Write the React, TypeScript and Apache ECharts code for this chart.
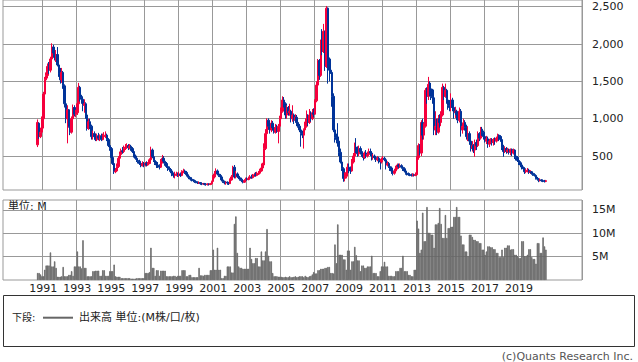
import React, { useEffect, useRef } from 'react';
import * as echarts from 'echarts';

// ---- axis / labels ----
const axisFirstYear = 1988;
const axisFirstMonth = 9;
const axisMonthCount = 409; // Sep 1988 .. Sep 2022
const dataFirstYear = 1990;
const dataFirstMonth = 9; // data: Sep 1990 .. Aug 2020
const gridYears = [1991, 1993, 1995, 1997, 1999, 2001, 2003, 2005, 2007, 2009, 2011, 2013, 2015, 2017, 2019];
const priceTicks = [500, 1000, 1500, 2000, 2500];
const volumeTicks = [5, 10, 15];

// ---- monthly candles: [open, close, low, high] ----
const candles: number[][] = [
  // 1990 Sep-Dec
  [650, 950, 620, 990], [940, 760, 730, 950], [760, 820, 740, 880], [820, 1000, 800, 1030],
  // 1991
  [1000, 1330, 870, 1360], [1330, 1520, 1300, 1560], [1520, 1580, 1420, 1620], [1580, 1700, 1540, 1740],
  [1700, 1650, 1600, 1760], [1650, 1800, 1620, 1830], [1800, 1960, 1780, 2010], [1960, 1880, 1840, 1990],
  [1880, 1820, 1780, 1960], [1820, 1860, 1760, 1920], [1860, 1720, 1700, 1960], [1720, 1600, 1560, 1760],
  // 1992
  [1600, 1520, 1470, 1680], [1520, 1620, 1480, 1680], [1620, 1440, 1400, 1640], [1440, 1200, 1150, 1460],
  [1200, 1000, 940, 1250], [1000, 1120, 670, 1180], [1120, 900, 880, 1130], [900, 820, 780, 960],
  [820, 1000, 800, 1030], [1000, 1150, 980, 1190], [1150, 1060, 1030, 1180], [1060, 1080, 1020, 1120],
  // 1993
  [1080, 1200, 1050, 1240], [1200, 1420, 1180, 1480], [1420, 1280, 1230, 1440], [1280, 1260, 1200, 1320],
  [1260, 1180, 1100, 1300], [1180, 1200, 1080, 1260], [1200, 1050, 1000, 1220], [1050, 870, 840, 1080],
  [870, 960, 850, 1000], [960, 900, 860, 1000], [900, 760, 720, 920], [760, 800, 720, 840],
  // 1994
  [800, 760, 730, 830], [760, 720, 700, 790], [720, 770, 700, 800], [770, 740, 710, 810],
  [740, 770, 700, 790], [770, 720, 700, 800], [720, 760, 710, 800], [760, 770, 730, 820],
  [770, 780, 740, 830], [780, 720, 700, 800], [720, 640, 620, 740], [640, 600, 570, 660],
  // 1995
  [600, 480, 460, 620], [480, 400, 380, 500], [400, 290, 260, 420], [290, 300, 270, 340],
  [300, 360, 290, 400], [360, 470, 340, 500], [470, 520, 450, 560], [520, 570, 500, 600],
  [570, 560, 530, 620], [560, 600, 540, 640], [600, 620, 580, 660], [620, 640, 600, 670],
  // 1996
  [640, 610, 580, 660], [610, 630, 590, 660], [630, 600, 570, 650], [600, 560, 540, 620],
  [560, 500, 480, 570], [500, 470, 450, 520], [470, 440, 420, 490], [440, 430, 400, 460],
  [430, 400, 380, 450], [400, 370, 350, 420], [370, 400, 360, 430], [400, 380, 350, 420],
  // 1997
  [380, 400, 360, 420], [400, 380, 360, 430], [380, 400, 370, 420], [400, 450, 390, 470],
  [450, 580, 440, 625], [580, 490, 470, 600], [490, 440, 420, 510], [440, 400, 380, 460],
  [400, 380, 340, 430], [380, 370, 340, 420], [370, 350, 320, 390], [350, 420, 340, 460],
  // 1998
  [420, 470, 400, 515], [470, 430, 400, 500], [430, 400, 370, 450], [400, 360, 340, 420],
  [360, 330, 300, 380], [330, 320, 290, 360], [320, 300, 270, 340], [300, 260, 230, 320],
  [260, 240, 210, 280], [240, 250, 200, 290], [250, 260, 230, 290], [260, 240, 220, 280],
  // 1999
  [240, 260, 220, 290], [260, 240, 220, 280], [240, 290, 230, 310], [290, 300, 270, 330],
  [300, 280, 260, 320], [280, 250, 240, 300], [250, 230, 210, 260], [230, 210, 190, 240],
  [210, 190, 170, 220], [190, 180, 160, 210], [180, 170, 150, 190], [170, 160, 140, 180],
  // 2000
  [160, 150, 135, 170], [150, 140, 125, 160], [140, 145, 125, 160], [145, 130, 115, 150],
  [130, 125, 110, 140], [125, 130, 112, 140], [130, 125, 108, 140], [125, 120, 102, 135],
  [120, 125, 105, 135], [125, 120, 104, 135], [120, 130, 110, 140], [130, 160, 120, 170],
  // 2001
  [160, 220, 150, 245], [220, 260, 200, 300], [260, 300, 240, 335], [300, 260, 240, 320],
  [260, 240, 220, 280], [240, 220, 200, 260], [220, 180, 160, 215], [180, 160, 140, 190],
  [160, 140, 120, 170], [140, 150, 115, 160], [150, 140, 115, 160], [140, 130, 112, 150],
  // 2002
  [130, 180, 125, 200], [180, 220, 170, 245], [220, 350, 210, 370], [350, 220, 200, 380],
  [220, 260, 200, 300], [260, 230, 210, 280], [230, 210, 190, 250], [210, 190, 170, 230],
  [190, 170, 150, 210], [170, 150, 134, 180], [150, 170, 140, 190], [170, 190, 160, 210],
  // 2003
  [190, 185, 170, 215], [185, 200, 175, 225], [200, 220, 190, 245], [220, 210, 195, 250],
  [210, 230, 200, 260], [230, 250, 220, 275], [250, 240, 225, 285], [240, 260, 230, 290],
  [260, 270, 245, 300], [270, 300, 255, 330], [300, 340, 290, 400], [340, 380, 320, 410],
  // 2004
  [380, 600, 370, 670], [600, 800, 580, 860], [800, 980, 760, 1005], [980, 900, 850, 1005],
  [900, 850, 800, 960], [850, 940, 820, 980], [940, 880, 840, 970], [880, 820, 800, 920],
  [820, 880, 800, 930], [880, 830, 810, 920], [830, 900, 670, 930], [900, 1000, 880, 1040],
  // 2005
  [1000, 1100, 980, 1150], [1100, 1250, 1080, 1300], [1250, 1200, 1150, 1290], [1200, 1050, 1000, 1220],
  [1050, 1150, 1000, 1180], [1150, 1080, 1040, 1170], [1080, 1100, 1040, 1200], [1100, 1000, 950, 1120],
  [1000, 1050, 960, 1180], [1050, 980, 930, 1070], [980, 1020, 950, 1060], [1020, 950, 900, 1050],
  // 2006
  [950, 900, 880, 1000], [900, 850, 820, 930], [850, 800, 625, 880], [800, 780, 740, 840],
  [780, 850, 600, 870], [850, 900, 840, 960], [900, 1000, 880, 1110], [1000, 950, 900, 1060],
  [950, 1050, 930, 1130], [1050, 1000, 960, 1100], [1000, 1080, 980, 1130], [1080, 1060, 1020, 1140],
  // 2007
  [1060, 1240, 1050, 1260], [1240, 1450, 1220, 1500], [1450, 1780, 1420, 1800], [1780, 1580, 1520, 1800],
  [1580, 2040, 1560, 2060], [2040, 1900, 1850, 2200], [1900, 2170, 1880, 2270], [2170, 1700, 1640, 2180],
  [1700, 2480, 1680, 2510], [2480, 1800, 1470, 2490], [1800, 1650, 1500, 1820], [1650, 1620, 1600, 1790],
  // 2008
  [1620, 1300, 1160, 1640], [1300, 850, 820, 1340], [850, 750, 680, 900], [750, 720, 670, 800],
  [720, 700, 625, 940], [700, 550, 500, 760], [550, 420, 400, 600], [420, 330, 300, 450],
  [330, 200, 155, 350], [200, 230, 160, 280], [230, 280, 200, 330], [280, 350, 250, 400],
  // 2009
  [350, 320, 270, 400], [320, 300, 260, 360], [300, 420, 290, 460], [420, 500, 400, 540],
  [500, 620, 480, 680], [620, 580, 540, 740], [580, 530, 490, 630], [530, 600, 500, 640],
  [600, 560, 520, 630], [560, 520, 490, 590], [520, 480, 440, 540], [480, 540, 460, 560],
  // 2010
  [540, 500, 470, 580], [500, 520, 480, 560], [520, 560, 500, 600], [560, 540, 500, 600],
  [540, 480, 440, 560], [480, 500, 450, 530], [500, 480, 450, 520], [480, 450, 420, 500],
  [450, 470, 430, 500], [470, 440, 400, 490], [440, 420, 320, 460], [420, 460, 400, 480],
  // 2011
  [460, 470, 440, 500], [470, 450, 430, 490], [450, 380, 320, 460], [380, 400, 360, 430],
  [400, 360, 340, 420], [360, 340, 300, 380], [340, 300, 260, 360], [300, 270, 240, 320],
  [270, 300, 250, 330], [300, 340, 290, 370], [340, 380, 320, 400], [380, 360, 330, 400],
  // 2012
  [360, 370, 340, 400], [370, 350, 330, 390], [350, 330, 300, 370], [330, 300, 280, 350],
  [300, 270, 250, 320], [270, 260, 240, 290], [260, 250, 235, 280], [250, 245, 230, 270],
  [245, 240, 225, 265], [240, 250, 225, 270], [250, 240, 225, 265], [240, 250, 230, 280],
  // 2013
  [250, 480, 240, 500], [480, 640, 450, 670], [640, 540, 510, 660], [540, 950, 500, 980],
  [950, 780, 720, 1000], [780, 900, 720, 940], [900, 1380, 880, 1410], [1380, 1300, 1200, 1420],
  [1300, 1460, 1250, 1560], [1460, 1400, 1300, 1500], [1400, 1300, 1250, 1480], [1300, 1280, 1200, 1400],
  // 2014
  [1280, 850, 780, 1390], [850, 900, 780, 1100], [900, 820, 780, 1000], [820, 1000, 800, 1050],
  [1000, 950, 880, 1060], [950, 1050, 900, 1100], [1050, 1420, 1030, 1470], [1420, 1300, 1250, 1440],
  [1300, 1380, 1280, 1470], [1380, 1250, 1200, 1400], [1250, 1180, 1120, 1300], [1180, 1150, 1100, 1250],
  // 2015
  [1150, 1250, 1100, 1340], [1250, 1150, 1100, 1280], [1150, 1080, 1000, 1160], [1080, 1100, 1010, 1160],
  [1100, 1050, 980, 1120], [1050, 980, 940, 1080], [980, 1100, 950, 1150], [1100, 850, 760, 1130],
  [850, 900, 800, 950], [900, 950, 860, 1000], [950, 880, 840, 980], [880, 760, 720, 920],
  // 2016
  [760, 800, 700, 900], [800, 700, 650, 830], [700, 600, 560, 760], [600, 640, 560, 700],
  [640, 580, 540, 660], [580, 680, 490, 720], [680, 640, 580, 720], [640, 800, 620, 830],
  [800, 740, 700, 820], [740, 860, 720, 890], [860, 820, 770, 890], [820, 760, 720, 840],
  // 2017
  [760, 700, 680, 790], [700, 730, 660, 770], [730, 660, 610, 760], [660, 700, 620, 730],
  [700, 720, 660, 740], [720, 680, 640, 740], [680, 720, 640, 740], [720, 700, 650, 750],
  [700, 740, 680, 760], [740, 780, 700, 800], [780, 760, 700, 790], [760, 720, 690, 780],
  // 2018
  [720, 620, 580, 760], [620, 560, 490, 650], [560, 600, 540, 630], [600, 560, 530, 620],
  [560, 580, 540, 610], [580, 550, 520, 600], [550, 590, 510, 600], [590, 540, 500, 600],
  [540, 580, 520, 600], [580, 500, 460, 590], [500, 480, 440, 520], [480, 440, 420, 500],
  // 2019
  [440, 410, 380, 450], [410, 380, 350, 430], [380, 340, 320, 400], [340, 330, 300, 360],
  [330, 290, 260, 350], [290, 300, 270, 330], [300, 310, 280, 340], [310, 280, 260, 330],
  [280, 290, 260, 310], [290, 270, 250, 300], [270, 250, 235, 280], [250, 240, 225, 270],
  // 2020 Jan-Aug
  [240, 200, 185, 250], [200, 190, 170, 220], [190, 170, 150, 200], [170, 180, 160, 200],
  [180, 170, 155, 190], [170, 165, 150, 185], [165, 160, 145, 180], [160, 170, 150, 180],
];

// ---- monthly volume (M) ----
const volumes: number[] = [
  1.5, 1.5, 1.2, 0.8,
  0.8, 2.2, 3.1, 3.1, 3.1, 5.9, 2.9, 2.9, 4.0, 2.6, 0.7, 0.7,
  0.7, 0.8, 2.8, 0.8, 0.8, 0.8, 1.1, 1.1, 1.9, 0.9, 2.9, 2.9,
  6.1, 2.9, 2.9, 2.5, 8.5, 2.6, 2.6, 0.8, 0.8, 0.8, 0.8, 1.9,
  1.9, 2.0, 2.0, 2.0, 0.9, 0.9, 2.1, 2.1, 0.9, 0.9, 0.9, 1.9,
  1.9, 1.9, 3.3, 0.8, 0.7, 0.7, 0.7, 0.4, 0.4, 0.4, 0.4, 0.4,
  0.4, 0.4, 0.3, 0.3, 0.3, 0.3, 0.4, 0.4, 0.4, 0.4, 0.4, 0.4,
  1.5, 1.5, 1.5, 1.7, 6.9, 2.6, 2.6, 0.9, 2.1, 2.1, 0.9, 2.0,
  2.0, 2.0, 2.0, 0.8, 0.8, 0.8, 0.8, 0.8, 0.9, 0.9, 0.7, 0.9,
  0.9, 0.9, 2.1, 2.1, 2.1, 0.8, 0.8, 1.1, 1.1, 0.6, 0.6, 0.6,
  0.6, 0.6, 2.6, 1.0, 1.0, 0.9, 1.1, 1.1, 1.1, 1.1, 2.1, 2.1,
  6.5, 2.2, 2.2, 6.9, 2.2, 2.2, 0.4, 0.4, 0.9, 0.9, 2.9, 2.9,
  2.9, 1.6, 1.6, 12.0, 13.6, 5.8, 2.9, 2.6, 2.6, 2.4, 2.4, 2.4,
  2.4, 2.4, 6.9, 4.5, 3.6, 3.6, 4.7, 4.7, 2.9, 2.9, 6.1, 4.2,
  4.2, 6.1, 10.9, 5.2, 4.0, 4.0, 1.5, 0.8, 0.8, 0.8, 0.7, 0.7,
  0.7, 0.6, 0.6, 0.7, 0.6, 0.6, 0.8, 0.6, 0.6, 0.7, 0.8, 0.6,
  0.7, 0.8, 0.8, 0.8, 0.6, 0.9, 0.7, 0.6, 0.8, 0.9, 1.2, 1.7,
  1.4, 1.4, 2.1, 2.1, 2.4, 2.4, 2.4, 2.6, 2.6, 2.8, 2.8, 1.5,
  1.5, 1.4, 7.6, 3.6, 11.9, 5.4, 5.4, 5.4, 4.4, 4.4, 2.2, 6.3,
  6.3, 2.2, 4.0, 4.0, 7.1, 5.3, 4.2, 4.2, 1.9, 3.1, 3.1, 2.6,
  2.6, 2.9, 2.9, 2.9, 5.2, 1.5, 1.5, 1.5, 0.8, 0.8, 1.9, 2.9,
  2.9, 3.9, 2.9, 2.9, 0.9, 0.9, 0.9, 0.8, 0.8, 1.9, 1.9, 1.9,
  2.6, 2.6, 5.2, 1.9, 1.9, 1.9, 1.1, 1.1, 0.8, 0.8, 2.2, 2.2,
  12.7, 11.0, 5.8, 6.5, 14.4, 8.3, 8.3, 15.6, 10.1, 10.1, 9.7, 9.7,
  6.9, 11.9, 11.9, 12.2, 15.4, 12.0, 9.0, 9.0, 13.9, 9.0, 11.1, 11.1,
  11.4, 11.4, 13.5, 13.5, 15.6, 13.5, 13.5, 9.5, 7.6, 7.6, 6.1, 6.1,
  5.1, 9.7, 9.7, 9.2, 8.6, 8.6, 8.3, 8.3, 7.9, 7.9, 6.5, 6.5,
  5.4, 6.1, 7.2, 7.2, 7.0, 7.0, 6.6, 6.6, 5.8, 5.8, 4.9, 4.9,
  6.5, 4.9, 6.9, 6.9, 7.4, 7.4, 6.5, 6.6, 6.6, 5.4, 5.4, 5.1,
  4.7, 4.7, 8.3, 8.3, 5.1, 5.1, 5.4, 6.6, 6.6, 4.9, 4.5, 4.5,
  3.5, 7.9, 7.9, 5.8, 5.8, 9.1, 7.2, 6.5,
];

const FONT = '"DejaVu Sans", "Noto Sans CJK JP", sans-serif';
const UP = '#f5003c';
const DOWN = '#003399';
const GRID = '#999999';
const TEXT = '#222222';
const VOL = '#666666';

function buildOption() {
  const categories: string[] = [];
  const base = axisFirstYear * 12 + axisFirstMonth - 1;
  for (let i = 0; i < axisMonthCount; i++) {
    const t = base + i;
    categories.push(`${Math.floor(t / 12)}-${String((t % 12) + 1).padStart(2, '0')}`);
  }
  const offset = (dataFirstYear - axisFirstYear) * 12 + (dataFirstMonth - axisFirstMonth);
  const candleData: any[] = categories.map((_, i) => {
    const k = i - offset;
    return k >= 0 && k < candles.length ? candles[k] : ['-', '-', '-', '-'];
  });
  const volumeData: any[] = categories.map((_, i) => {
    const k = i - offset;
    return k >= 0 && k < volumes.length ? volumes[k] : '-';
  });
  const isGrid = (_i: number, v: string) =>
    v.endsWith('-01') && gridYears.indexOf(Number(v.slice(0, 4))) >= 0;

  const splitLine = { show: true, interval: isGrid, lineStyle: { color: GRID, width: 1 } };

  return {
    animation: false,
    backgroundColor: '#ffffff',
    textStyle: { fontFamily: FONT },
    grid: [
      { left: 3, width: 579, top: 0, height: 190, show: true, borderColor: GRID, borderWidth: 1, backgroundColor: 'transparent' },
      { left: 3, width: 579, top: 200, height: 80, show: true, borderColor: GRID, borderWidth: 1, backgroundColor: 'transparent' },
    ],
    xAxis: [
      {
        type: 'category', gridIndex: 0, data: categories, boundaryGap: true,
        axisLine: { show: false }, axisTick: { show: false }, axisLabel: { show: false },
        splitLine,
      },
      {
        type: 'category', gridIndex: 1, data: categories, boundaryGap: true,
        axisLine: { show: false }, axisTick: { show: false },
        axisLabel: {
          interval: isGrid, formatter: (v: string) => v.slice(0, 4), margin: 3,
          color: TEXT, fontSize: 11, fontFamily: FONT,
        },
        splitLine,
      },
    ],
    yAxis: [
      {
        type: 'value', gridIndex: 0, position: 'right', min: 45, max: 2590,
        axisLine: { show: false },
        axisTick: { show: false, customValues: priceTicks },
        axisLabel: {
          customValues: priceTicks, margin: 10, color: TEXT, fontSize: 11, fontFamily: FONT,
          formatter: (v: number) => v.toLocaleString('en-US'),
        },
        splitLine: { show: true, lineStyle: { color: GRID, width: 1 } },
      },
      {
        type: 'value', gridIndex: 1, position: 'right', min: 0, max: 17.1,
        axisLine: { show: false },
        axisTick: { show: false, customValues: volumeTicks },
        axisLabel: {
          customValues: volumeTicks, margin: 10, color: TEXT, fontSize: 11, fontFamily: FONT,
          formatter: (v: number) => `${v}M`,
        },
        splitLine: { show: true, lineStyle: { color: GRID, width: 1 } },
      },
    ],
    series: [
      {
        type: 'candlestick', xAxisIndex: 0, yAxisIndex: 0, data: candleData, barWidth: 2,
        itemStyle: { color: UP, color0: DOWN, borderColor: UP, borderColor0: DOWN, borderWidth: 1 },
      },
      {
        type: 'bar', xAxisIndex: 1, yAxisIndex: 1, data: volumeData, barWidth: '100%',
        itemStyle: { color: VOL, borderColor: VOL, borderWidth: 0.7 },
      },
    ],
    graphic: [
      {
        type: 'text', x: 8, y: 206.5,
        style: { text: '単位: M', fontSize: 11, fontFamily: FONT, fill: TEXT, textVerticalAlign: 'middle', verticalAlign: 'middle' },
      },
      {
        type: 'rect', shape: { x: 3.5, y: 295.5, width: 631, height: 51 },
        style: { fill: 'none', stroke: '#333333', lineWidth: 1 },
      },
      {
        type: 'text', x: 12, y: 317.5,
        style: { text: '下段:', fontSize: 10, fontFamily: FONT, fill: TEXT, textVerticalAlign: 'middle', verticalAlign: 'middle' },
      },
      {
        type: 'line', shape: { x1: 43, y1: 317.7, x2: 73, y2: 317.7 },
        style: { stroke: VOL, lineWidth: 2 },
      },
      {
        type: 'text', x: 79, y: 317.5,
        style: { text: '出来高 単位:(M株/口/枚)', fontSize: 11, fontFamily: FONT, fill: TEXT, textVerticalAlign: 'middle', verticalAlign: 'middle' },
      },
      {
        type: 'text', x: 633, y: 356,
        style: {
          text: '(c)Quants Research Inc.', fontSize: 11, fontFamily: FONT, fill: '#555555',
          textAlign: 'right', align: 'right', textVerticalAlign: 'middle', verticalAlign: 'middle',
        },
      },
    ],
  };
}

export default function App() {
  const ref = useRef<HTMLDivElement>(null);
  useEffect(() => {
    if (!ref.current) return;
    const chart = echarts.init(ref.current, undefined, { renderer: 'svg' });
    chart.setOption(buildOption() as any);
    return () => chart.dispose();
  }, []);
  return (
    <div
      ref={ref}
      style={{ position: 'absolute', left: 0, top: 0, width: 638, height: 362, background: '#fff' }}
    />
  );
}
